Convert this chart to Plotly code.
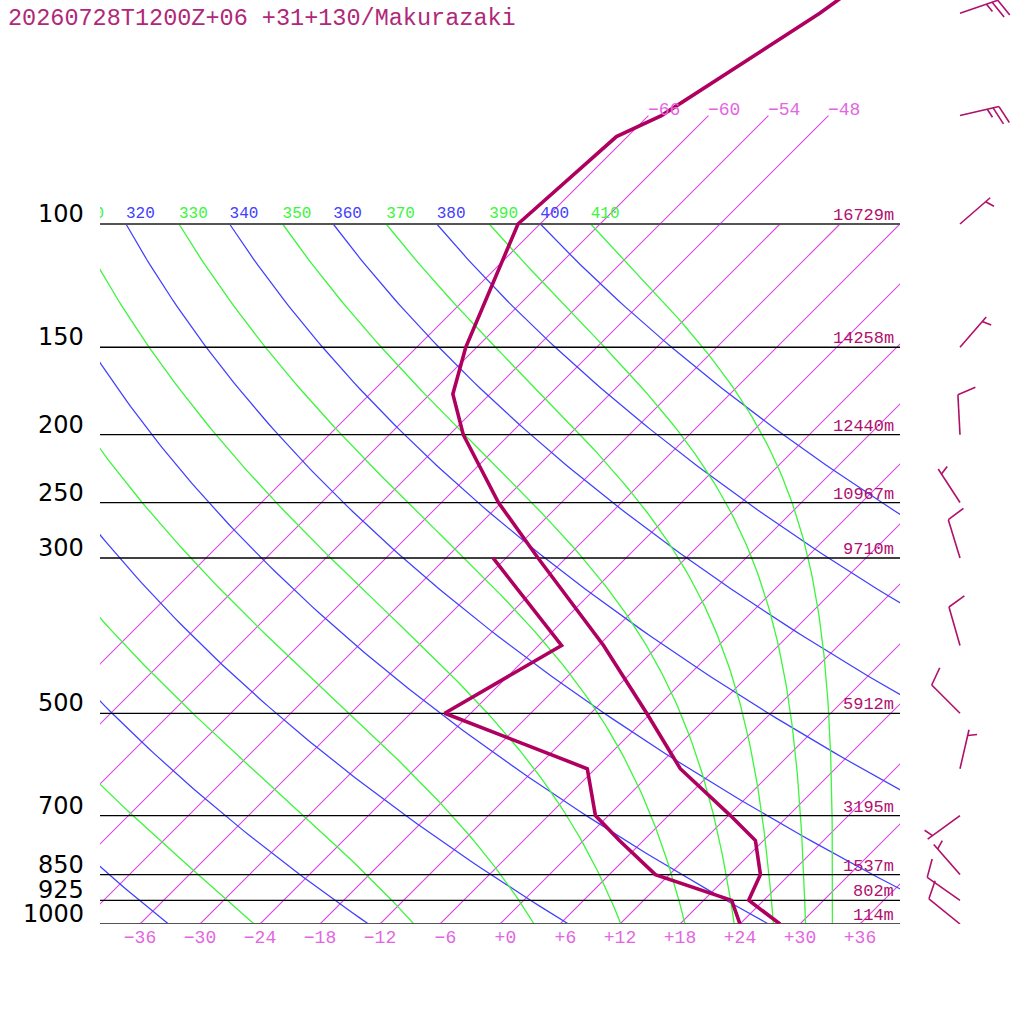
import numpy as np
import plotly.graph_objects as go

# ---------------- data ----------------
title_text = "20260728T1200Z+06 +31+130/Makurazaki"

# temperature profile (hPa, degC)
p_temp = [1000, 925, 850, 760, 700, 600, 500, 400, 300, 250, 200, 175, 150, 100, 75, 70, 50, 40]
t_temp = [28.0, 22.5, 21.1, 17.2, 12.2, 2.5, -6.4, -17.5, -32.8, -42.3, -52.6, -57.7, -61.1,
          -68.2, -67.1, -64.7, -59.1, -56.5]
# dew point profile
p_dew = [1000, 925, 850, 760, 700, 600, 500, 400, 300]
t_dew = [24.0, 20.8, 10.6, 3.6, -1.3, -6.8, -26.6, -21.7, -37.3]

# standard isobars and their heights
isobar_p = [100, 150, 200, 250, 300, 500, 700, 850, 925, 1000]
isobar_h = [16729, 14258, 12440, 10967, 9710, 5912, 3195, 1537, 802, 114]

# winds
wind_p = [50, 70, 100, 150, 200, 250, 300, 400, 500, 600, 700, 850, 925, 1000]
wind_dir = [71, 77, 49, 41, 357, 327, 343, 344, 315, 13, 234, 319, 305, 309]
wind_kt = [25, 25, 5, 5, 10, 5, 10, 10, 10, 5, 5, 5, 10, 10]

# background lines
isotherm_t = list(range(-66, 37, 6))
isotherm_upper_t = [-66, -60, -54, -48]
dry_theta = list(range(240, 401, 20))
moist_thetae = list(range(250, 411, 20))
x_tick_t = list(range(-36, 37, 6))

# ---------------- styling constants ----------------
SKEW = 70.0            # degC shift per decade of pressure
P_TOP_LOG = 3 - 924 / 700.0
C_TEMP = "rgb(176,0,95)"
C_BARB = "rgb(176,16,106)"
C_ISOT = "rgb(218,72,226)"
C_ISOT_LBL = "rgb(226,102,226)"
C_DRY = "rgb(64,64,255)"
C_MOIST = "rgb(60,245,60)"
C_HGT = "rgb(176,16,112)"
C_TITLE = "rgb(176,40,120)"
MONO = "Liberation Mono"


def skx(t, p):
    return np.asarray(t, float) + SKEW * np.log10(1000.0 / np.asarray(p, float))


def theta_e_sat(tc, p):
    tk = tc + 273.15
    es = 6.112 * np.exp(17.67 * tc / (tc + 243.5))
    es = np.minimum(es, 0.9 * p)
    r = 622.0 * es / (p - es)
    return tk * (1000.0 / p) ** (0.2854 * (1 - 0.28e-3 * r)) * \
        np.exp((3.376 / tk - 0.00254) * r * (1 + 0.81e-3 * r))


def moist_t(thetae, p):
    lo = np.full_like(p, -160.0)
    hi = np.full_like(p, 40.0)
    for _ in range(60):
        mid = 0.5 * (lo + hi)
        f = theta_e_sat(mid, p) > thetae
        hi = np.where(f, mid, hi)
        lo = np.where(f, lo, mid)
    return 0.5 * (lo + hi)


fig = go.Figure()
pp = np.logspace(2, 3, 120)

# isotherms
for t in isotherm_t:
    ptop = 70.0 if t in isotherm_upper_t else 100.0
    fig.add_trace(go.Scatter(x=[float(skx(t, 1000)), float(skx(t, ptop))], y=[1000.0, ptop],
                             mode="lines", line=dict(color=C_ISOT, width=1.1),
                             hoverinfo="skip", showlegend=False))

# dry adiabats
for th in dry_theta:
    tc = th * (pp / 1000.0) ** 0.2857 - 273.15
    fig.add_trace(go.Scatter(x=skx(tc, pp), y=pp, mode="lines",
                             line=dict(color=C_DRY, width=1.25),
                             hoverinfo="skip", showlegend=False))

# moist adiabats
for te in moist_thetae:
    tc = moist_t(te, pp)
    fig.add_trace(go.Scatter(x=skx(tc, pp), y=pp, mode="lines",
                             line=dict(color=C_MOIST, width=1.3),
                             hoverinfo="skip", showlegend=False))

# isobars
for p in isobar_p:
    edge = p in (100, 1000)
    fig.add_trace(go.Scatter(x=[-40, 40], y=[p, p], mode="lines",
                             line=dict(color="#555555" if edge else "#000000",
                                       width=2 if edge else 1.3),
                             hoverinfo="skip", showlegend=False))

# theta labels at 100 hPa (only those reaching into the plot)
lab_x, lab_t, lab_c = [], [], []
for th in dry_theta:
    xv = float(skx(th * 0.1 ** 0.2857 - 273.15, 100))
    if xv > -44:
        lab_x.append(xv)
        lab_t.append(str(th))
        lab_c.append(C_DRY)
for te in moist_thetae:
    xv = float(skx(moist_t(te, np.array([100.0]))[0], 100))
    if xv > -44:
        lab_x.append(xv)
        lab_t.append(str(te))
        lab_c.append(C_MOIST)
fig.add_trace(go.Scatter(x=lab_x, y=[99.3] * len(lab_x), mode="text", text=lab_t,
                         textposition="top right", cliponaxis=True,
                         textfont=dict(family=MONO, size=16, color=lab_c),
                         hoverinfo="skip", showlegend=False))

# sounding
fig.add_trace(go.Scatter(x=skx(t_dew, p_dew), y=p_dew, mode="lines",
                         line=dict(color=C_TEMP, width=3.6), showlegend=False))
fig.add_trace(go.Scatter(x=skx(t_temp, p_temp), y=p_temp, mode="lines",
                         line=dict(color=C_TEMP, width=3.6), showlegend=False))

# wind barbs (x2 axis in pixels, y offset in pixels converted to log-pressure)
STAFF, FULL, HALF, GAP, ANG = 40.0, 19.0, 9.5, 6.0, np.deg2rad(-70)
bx, by = [], []
for p, d, s in zip(wind_p, wind_dir, wind_kt):
    u = np.array([np.sin(np.deg2rad(d)), np.cos(np.deg2rad(d))])
    v = np.array([u[0] * np.cos(ANG) - u[1] * np.sin(ANG), u[0] * np.sin(ANG) + u[1] * np.cos(ANG)])
    tip = STAFF * u
    segs = [(np.zeros(2), tip)]
    n10 = s // 10
    n5 = (s % 10) // 5
    pos = 0.0
    for _ in range(n10):
        st = tip - pos * u
        segs.append((st, st + FULL * v))
        pos += GAP
    for _ in range(n5):
        if pos == 0:
            pos = GAP
        st = tip - pos * u
        segs.append((st, st + HALF * v))
        pos += GAP
    for a, b in segs:
        bx += [60 + a[0], 60 + b[0], None]
        by += [p * 10 ** (-a[1] / 700.0), p * 10 ** (-b[1] / 700.0), None]
fig.add_trace(go.Scatter(x=bx, y=by, mode="lines", xaxis="x2", yaxis="y",
                         line=dict(color=C_BARB, width=1.6), hoverinfo="skip", showlegend=False))

# annotations
ann = []
for p in isobar_p:
    ann.append(dict(x=(86 - 100) / 924.0, xref="paper", y=np.log10(p), yref="y",
                    text=str(p), showarrow=False, xanchor="right", yanchor="bottom", yshift=-6,
                    font=dict(family="DejaVu Sans", size=24, color="#000000")))
for p, h in zip(isobar_p, isobar_h):
    ann.append(dict(x=40, xref="x", y=np.log10(p), yref="y", text="%dm" % h,
                    showarrow=False, xanchor="right", yanchor="bottom", xshift=-4, yshift=-3,
                    font=dict(family=MONO, size=17, color=C_HGT)))
for t in isotherm_upper_t:
    ann.append(dict(x=float(skx(t, 70)), xref="x", y=np.log10(70), yref="y",
                    text="\u2212%d" % abs(t), showarrow=False, xanchor="left", yanchor="bottom",
                    xshift=-2, yshift=-6, font=dict(family=MONO, size=18, color=C_ISOT_LBL)))
ann.append(dict(x=(8 - 100) / 924.0, xref="paper", y=1, yref="paper", text=title_text,
                showarrow=False, xanchor="left", yanchor="top", xshift=-2, yshift=-3,
                font=dict(family=MONO, size=23.5, color=C_TITLE)))

tick_text = []
for t in x_tick_t:
    s = ("+%d" % t) if t >= 0 else ("\u2212%d" % abs(t))
    if abs(t) < 10:
        s = "\u00a0" + s
    tick_text.append(s)

fig.update_layout(
    width=1024, height=1024,
    margin=dict(l=100, r=0, t=0, b=100),
    paper_bgcolor="white", plot_bgcolor="white",
    showlegend=False,
    annotations=ann,
    xaxis=dict(domain=[0, 800 / 924.0], range=[-40, 40], showgrid=False, zeroline=False,
               showline=False, ticks="", tickvals=x_tick_t, ticktext=tick_text,
               tickfont=dict(family=MONO, size=18, color=C_ISOT_LBL)),
    xaxis2=dict(domain=[800 / 924.0, 1], range=[0, 124], anchor="y", visible=False),
    yaxis=dict(type="log", range=[3, P_TOP_LOG], showgrid=False, zeroline=False,
               showline=False, showticklabels=False, ticks=""),
)

fig.write_html("out.html", config={"displayModeBar": False},
               post_script="document.body.style.margin='0px';")
